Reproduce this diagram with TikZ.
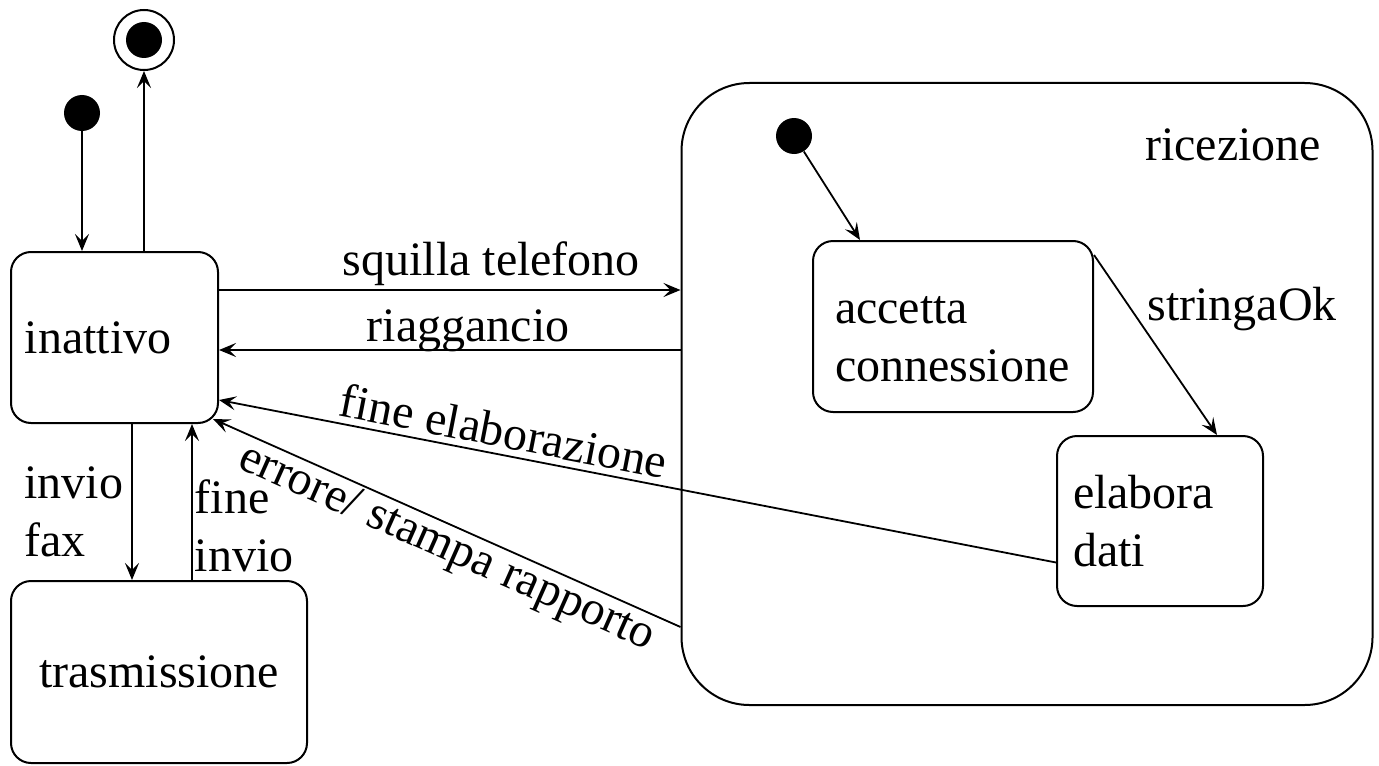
\documentclass[tikz,border=0pt]{standalone}
\usepackage{fontspec}
\setmainfont{Liberation Serif}
\usepackage{tikz}
\usetikzlibrary{calc,arrows.meta}

\tikzset{
  state/.style={draw, line width=1pt, rounded corners=10pt, inner sep=0pt},
  start/.style={circle, fill=black, minimum size=18pt, inner sep=0pt},
  stop/.style={circle, draw, line width=1pt, minimum size=30pt, inner sep=0pt,
    path picture={\fill (path picture bounding box.center) circle (9pt);}},
  trans/.style={line width=0.9pt, -{Stealth[length=8.5pt, width=7pt, inset=3.5pt]}},
  lbl/.style={inner sep=1.5pt, align=left}
}

\begin{document}
\begin{tikzpicture}[x=0.5pt, y=-0.5pt, font=\fontsize{24}{29}\selectfont]
    \useasboundingbox (0,0) rectangle (1379,765);
    % stati
    \node[state, minimum width=103.5pt, minimum height=85.5pt, text width=89.5pt, align=left]
        (ina) at (114.5,337.5) {inattivo};
    \node[state, minimum width=148pt, minimum height=91pt, align=center]
        (tra) at (159,672) {trasmissione};
    \node[state, rounded corners=34pt, minimum width=345.5pt, minimum height=311pt]
        (ric) at (1027,394) {};
    \node[anchor=base, inner sep=0pt] (ricname) at (1233,160) {ricezione};
    \node[state, minimum width=140pt, minimum height=85.5pt, text width=118pt, align=left]
        (acc) at (953,326.5) {\rule{0pt}{26pt}accetta\\connessione};
    \node[state, minimum width=103pt, minimum height=85pt, text width=87pt, align=left]
        (elab) at (1160,521) {elabora\\dati};
    \node[start] (init) at (82,113) {};
    \node[stop] (fin) at (144,40) {};
    \node[start] (rinit) at (794,136) {};
    % transizioni
    \draw[trans] (init) -- (init |- ina.north);
    \draw[trans] (fin |- ina.north) -- (fin);
    \draw[trans] ([xshift=8.75pt]ina.south) -- ([xshift=8.75pt]ina.south |- tra.north)
        node[lbl, left, pos=0.56, inner sep=4pt] (lblfax) {invio\\fax};
    \draw[trans] ([xshift=38.75pt]ina.south |- tra.north) -- ([xshift=38.75pt]ina.south)
        node[lbl, right, pos=0.35, inner sep=1pt] (lblfine) {fine\\invio};
    \draw[trans] ([yshift=23.75pt]ina.east) -- ([yshift=23.75pt]ina.east -| ric.west)
        node[lbl, above, pos=0.59] (lblsq) {squilla telefono};
    \draw[trans] ([yshift=-6.25pt]ina.east -| ric.west) -- ([yshift=-6.25pt]ina.east)
        node[lbl, above, pos=0.46, inner sep=-1.5pt] (lblria) {riaggancio};
    \draw[trans] ([yshift=-20.75pt]elab.west) -- ([yshift=-31.25pt]ina.east)
        node[lbl, above, sloped, pos=0.665, inner sep=3pt] (lblfe) {fine elaborazione};
    \draw[trans] ([yshift=-116.5pt]ric.west) -- ([xshift=-3pt, yshift=2.5pt]ina.south east)
        node[lbl, below, sloped, pos=0.48, inner sep=1pt] (lblerr) {errore/ stampa rapporto};
    \draw[trans] (rinit) -- ([xshift=24pt]acc.north west);
    \draw[trans] ([yshift=-7.5pt]acc.north east) -- ([xshift=80.5pt]elab.north west);
    \node[anchor=base west, inner sep=0pt] (lblok) at (1147,320) {stringaOk};
\end{tikzpicture}
\end{document}
